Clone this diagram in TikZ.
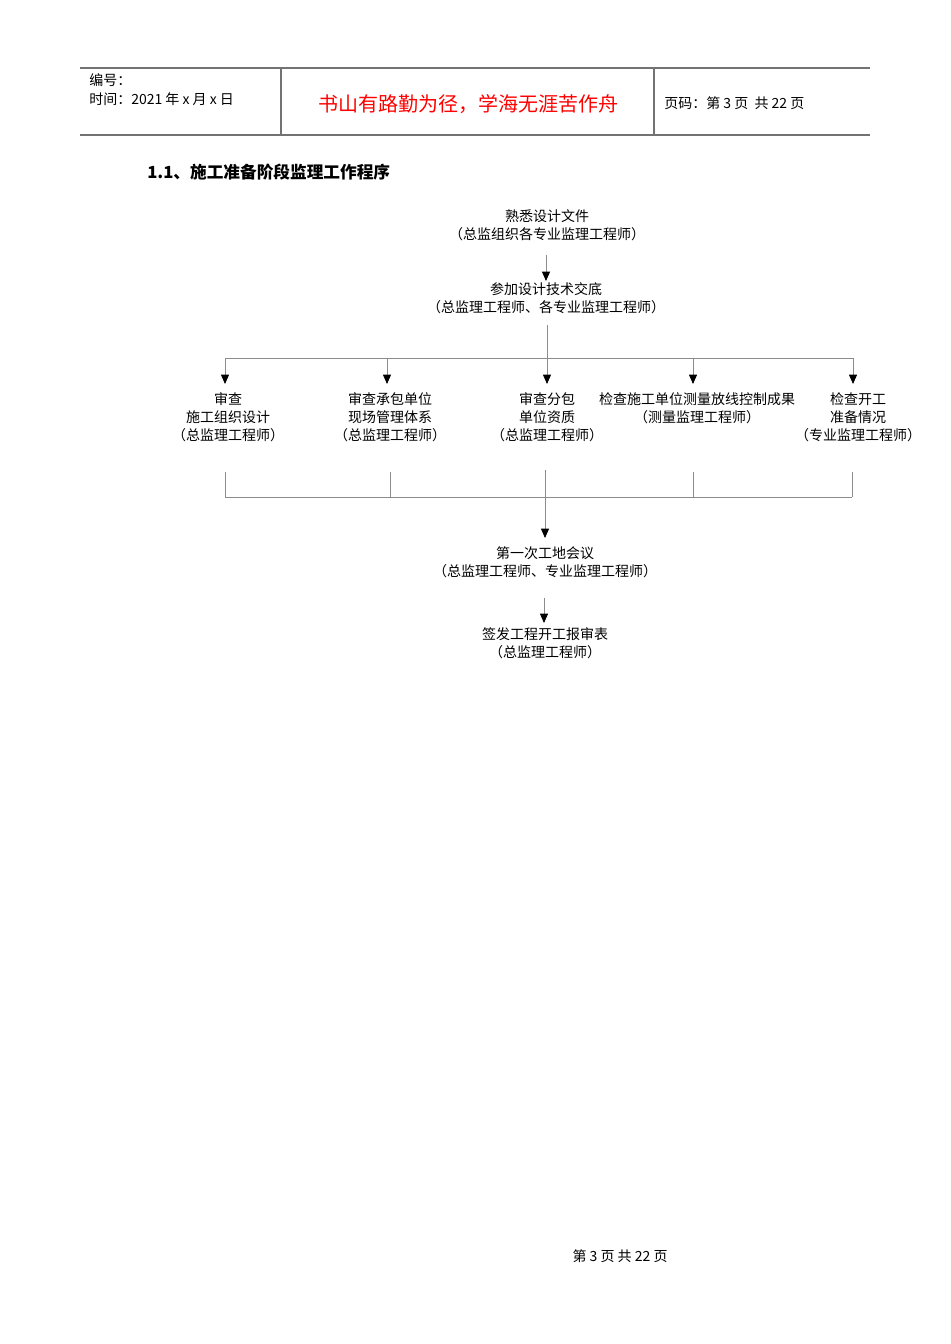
\documentclass[tikz,border=0pt]{standalone}
\usepackage{fontspec}
\setmainfont{Noto Sans CJK SC}
\usetikzlibrary{arrows.meta}
\begin{document}
\begin{tikzpicture}[x=0.75pt,y=-0.75pt,
  txt/.style={font=\fontsize{10.5}{13.5}\selectfont,align=center,inner sep=0pt},
  ln/.style={draw=black!45,line width=0.6pt},
  arr/.style={ln,-{Triangle[black,length=7pt,width=6pt]}}]
\useasboundingbox (0,0) rectangle (950,1344);
% header
\draw[black!55,line width=0.8pt] (80,68) -- (870,68) (80,135) -- (870,135) (281,68) -- (281,135) (654,68) -- (654,135);
\node[txt,anchor=west] (h1) at (89,80) {编号：};
\node[txt,anchor=west] (h2) at (89,99) {时间：2021 年 x 月 x 日};
\node[inner sep=0pt,text=red,font=\fontsize{15}{18}\selectfont] (h3) at (468,104) {书山有路勤为径，学海无涯苦作舟};
\node[txt,anchor=west] (h4) at (664,103) {页码：第 3 页\ \ 共 22 页};
\node[inner sep=0pt,anchor=west,font=\bfseries\fontsize{12.5}{15}\selectfont] (t) at (147,172) {1.1、施工准备阶段监理工作程序};
% flow
\node[txt] (a) at (547,225) {熟悉设计文件\\（总监组织各专业监理工程师）};
\node[txt] (b) at (546,298) {参加设计技术交底\\（总监理工程师、各专业监理工程师）};
\coordinate (a1) at (546,255); \coordinate (b0) at (546,281);
\draw[arr] (a1) -- (b0);
\coordinate (b1) at (547,325); \coordinate (s) at (547,358);
\draw[ln] (b1) -- (s) (225,358) -- (853,358);
\foreach \x/\n in {225/1,387/2,547/3,693/4,853/5}{
  \coordinate (p\n) at (\x,358); \coordinate (q\n) at (\x,384);
  \draw[arr] (p\n) -- (q\n);}
\node[txt] (c1) at (228,417) {审查\\施工组织设计\\（总监理工程师）};
\node[txt] (c2) at (390,417) {审查承包单位\\现场管理体系\\（总监理工程师）};
\node[txt] (c3) at (547,417) {审查分包\\单位资质\\（总监理工程师）};
\node[txt] (c4) at (697,408) {检查施工单位测量放线控制成果\\（测量监理工程师）};
\node[txt] (c5) at (858,417) {检查开工\\准备情况\\（专业监理工程师）};
\foreach \x/\n in {225/1,390/2,693/4,852/5}{
  \coordinate (u\n) at (\x,472); \coordinate (v\n) at (\x,497);
  \draw[ln] (u\n) -- (v\n);}
\draw[ln] (225,497) -- (852,497);
\coordinate (u3) at (545,470); \coordinate (v3) at (545,538);
\draw[arr] (u3) -- (v3);
\node[txt] (d) at (545,562) {第一次工地会议\\（总监理工程师、专业监理工程师）};
\coordinate (d1) at (544,598); \coordinate (e0) at (544,623);
\draw[arr] (d1) -- (e0);
\node[txt] (e) at (545,643) {签发工程开工报审表\\（总监理工程师）};
\node[txt] (f) at (620,1256) {第\ 3\ 页\ 共\ 22\ 页};
\end{tikzpicture}
\end{document}
